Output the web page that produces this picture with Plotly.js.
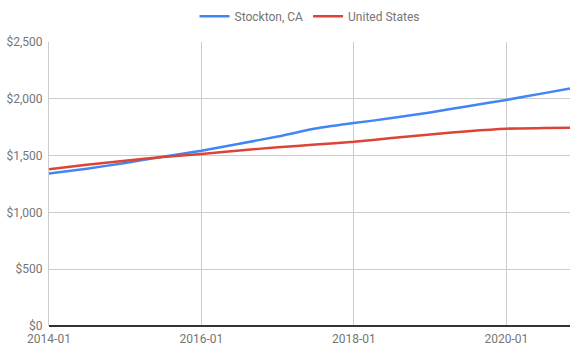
<!DOCTYPE html>
<html>
<head>
<meta charset="utf-8">
<script src="https://cdn.plot.ly/plotly-3.0.1.min.js"></script>
<style>html,body{margin:0;padding:0;background:#fff}#chart{width:581px;height:357px}</style>
</head>
<body>
<div id="chart"></div>
<script>
const dates = ['2014-01-01','2014-07-01','2015-01-01','2015-07-01','2016-01-01','2016-07-01','2017-01-01','2017-07-01','2018-01-01','2018-07-01','2019-01-01','2019-07-01','2020-01-01','2020-07-01','2020-11-01'];
const stockton = [1342,1385,1435,1490,1543,1605,1668,1738,1786,1830,1880,1935,1990,2050,2090];
const usa = [1380,1420,1455,1488,1515,1545,1573,1597,1622,1655,1685,1715,1737,1742,1745];
const xTickVals = ['2014-01-01','2016-01-01','2018-01-01','2020-01-01'];
const xTickText = ['2014-01','2016-01','2018-01','2020-01'];
const yTickVals = [0,500,1000,1500,2000,2500];
const yTickText = ['$0','$500','$1,000','$1,500','$2,000','$2,500'];

const traces = [
  {x: dates, y: stockton, name: 'Stockton, CA', type: 'scatter', mode: 'lines', line: {color: '#4285F4', width: 2.5, shape: 'spline', smoothing: 0.6}},
  {x: dates, y: usa, name: 'United States', type: 'scatter', mode: 'lines', line: {color: '#DB4437', width: 2.5, shape: 'spline', smoothing: 0.6}}
];
const layout = {
  width: 581, height: 357,
  margin: {l: 49, r: 11, t: 42, b: 31},
  paper_bgcolor: '#fff', plot_bgcolor: '#fff',
  font: {family: 'Roboto, Arial, sans-serif', size: 12, color: '#757575'},
  showlegend: true,
  legend: {orientation: 'h', x: 0.5, xanchor: 'center', yref: 'container', y: 0.995, yanchor: 'top', font: {size: 12, color: '#757575'}, itemwidth: 30},
  xaxis: {type: 'date', range: ['2014-01-01','2020-11-01'], tickvals: xTickVals, ticktext: xTickText, showgrid: true, gridcolor: '#cccccc', gridwidth: 1, zeroline: false, showline: false, ticks: '', ticklabelstandoff: 4, tickfont: {size: 12, color: '#757575'}, fixedrange: true},
  yaxis: {range: [0, 2500], tickvals: yTickVals, ticktext: yTickText, showgrid: true, gridcolor: '#cccccc', gridwidth: 1, zeroline: true, zerolinecolor: '#333333', zerolinewidth: 1.5, showline: true, linecolor: '#cccccc', linewidth: 1, ticks: '', ticklabelstandoff: 3, tickfont: {size: 12, color: '#757575'}, fixedrange: true}
};
Plotly.newPlot('chart', traces, layout, {displayModeBar: false, staticPlot: true});
</script>
</body>
</html>
